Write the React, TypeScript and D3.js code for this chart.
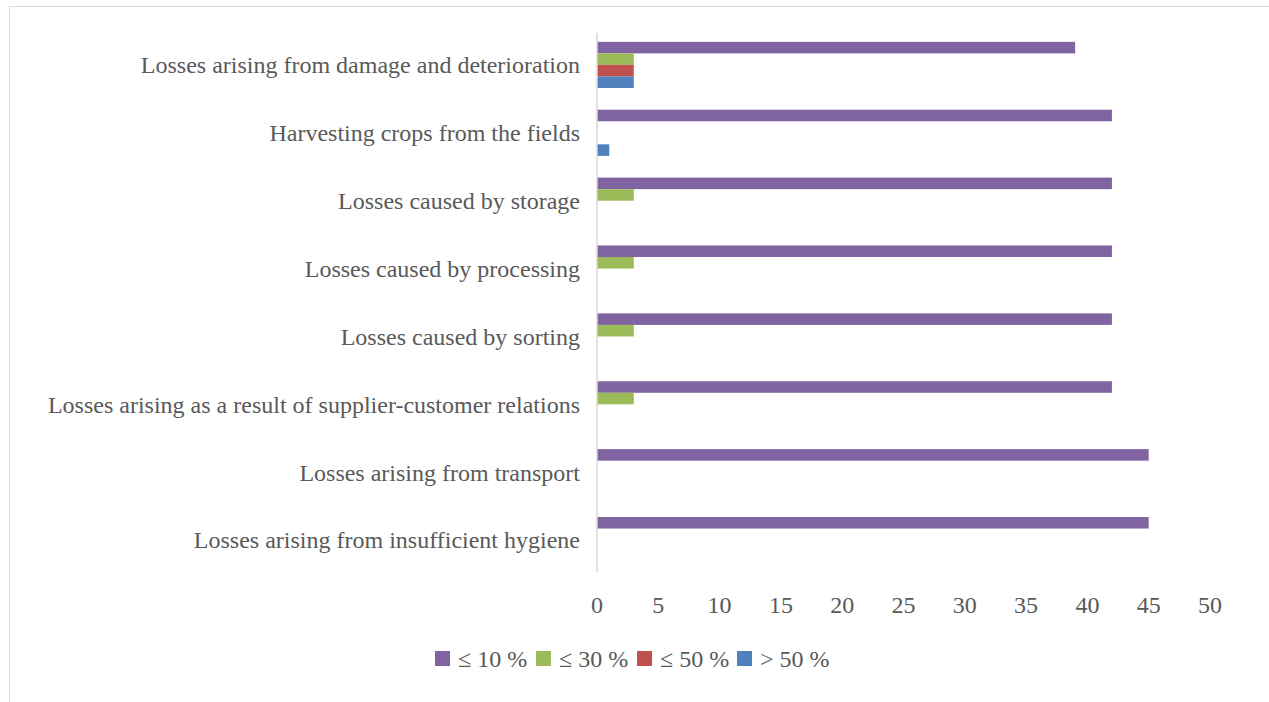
import React from "react";
import * as d3 from "d3";

// categories top to bottom
const categories = [
  "Losses arising from damage and deterioration",
  "Harvesting crops from the fields",
  "Losses caused by storage",
  "Losses caused by processing",
  "Losses caused by sorting",
  "Losses arising as a result of supplier-customer relations",
  "Losses arising from transport",
  "Losses arising from insufficient hygiene",
];

const seriesNames = ["≤ 10 %", "≤ 30 %", "≤ 50 %", "> 50 %"];
const seriesColors = ["#8064A2", "#9BBB59", "#C0504D", "#4F81BD"];

const upTo10 = [39, 42, 42, 42, 42, 42, 45, 45];
const upTo30 = [3, 0, 3, 3, 3, 3, 0, 0];
const upTo50 = [3, 0, 0, 0, 0, 0, 0, 0];
const over50 = [3, 1, 0, 0, 0, 0, 0, 0];

const xTicks = [0, 5, 10, 15, 20, 25, 30, 35, 40, 45, 50];

const W = 1269;
const H = 702;
const font = "'Liberation Serif', 'Times New Roman', serif";
const fs = 24;

const App: React.FC = () => {
  const series = [upTo10, upTo30, upTo50, over50];

  const x = d3.scaleLinear().domain([0, 50]).range([597, 1210]);
  const y = d3.scaleBand<string>().domain(categories).range([33, 572]).paddingInner(0.32).paddingOuter(0.13);
  const y1 = d3.scaleBand<number>().domain(d3.range(series.length)).range([0, y.bandwidth()]);

  // legend layout
  const legendX = [435, 536, 637, 737];

  return (
    <svg width={W} height={H} style={{ position: "absolute", left: 0, top: 0, background: "#fff" }}>
      {/* frame */}
      <line x1={9.5} y1={6.5} x2={W} y2={6.5} stroke="#d9d9d9" />
      <line x1={9.5} y1={6.5} x2={9.5} y2={H} stroke="#d9d9d9" />

      {categories.map((c, i) => (
        <g key={c} transform={`translate(0,${y(c)})`}>
          {series.map((s, k) =>
            s[i] > 0 ? (
              <rect
                key={k}
                x={x(0)}
                y={y1(k)}
                width={x(s[i]) - x(0)}
                height={y1.bandwidth()}
                fill={seriesColors[k]}
              />
            ) : null
          )}
          <text
            x={580}
            y={y.bandwidth() / 2}
            dy="0.35em"
            textAnchor="end"
            fontFamily={font}
            fontSize={fs}
            fill="#595959"
          >
            {c}
          </text>
        </g>
      ))}

      {/* axis line */}
      <line x1={x(0)} y1={33} x2={x(0)} y2={572} stroke="#d9d9d9" strokeWidth={1.5} />

      {xTicks.map((t) => (
        <text
          key={t}
          x={x(t)}
          y={605}
          dy="0.35em"
          textAnchor="middle"
          fontFamily={font}
          fontSize={fs}
          fill="#595959"
        >
          {t}
        </text>
      ))}

      {seriesNames.map((n, k) => (
        <g key={n}>
          <rect x={legendX[k]} y={651} width={15} height={15} fill={seriesColors[k]} />
          <text
            x={legendX[k] + 23}
            y={659}
            dy="0.35em"
            fontFamily={font}
            fontSize={fs}
            fill="#595959"
          >
            {n}
          </text>
        </g>
      ))}
    </svg>
  );
};

export default App;
